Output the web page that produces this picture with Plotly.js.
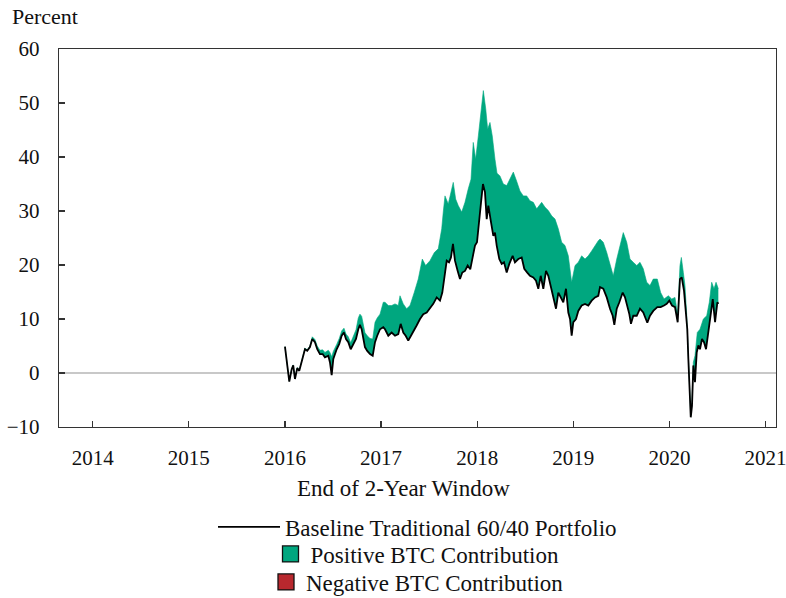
<!DOCTYPE html>
<html>
<head>
<meta charset="utf-8">
<script src="https://cdn.plot.ly/plotly-3.0.1.min.js"></script>
<style>html,body{margin:0;padding:0;background:#fff;}</style>
</head>
<body>
<div id="chart" style="width:786px;height:598px;"></div>
<script>
// End of 2-year window (decimal year) and baseline 60/40 portfolio return (percent)
var baseX = [2016.000,2016.024,2016.045,2016.070,2016.086,2016.104,2016.128,2016.149,2016.174,2016.208,2016.232,2016.260,2016.284,2016.312,2016.336,2016.364,2016.392,2016.416,2016.451,2016.468,2016.486,2016.503,2016.538,2016.565,2016.590,2016.614,2016.635,2016.659,2016.684,2016.711,2016.739,2016.763,2016.780,2016.798,2016.815,2016.832,2016.856,2016.885,2016.913,2016.937,2016.960,2016.989,2017.023,
2017.041,2017.075,2017.110,2017.145,2017.179,2017.204,2017.231,2017.256,2017.283,2017.311,2017.335,2017.370,2017.405,2017.439,2017.475,2017.509,2017.543,2017.579,2017.613,2017.637,2017.658,2017.683,2017.707,2017.727,2017.748,2017.769,2017.797,2017.821,2017.845,2017.873,2017.901,2017.928,2017.949,2017.977,2017.998,2018.019,2018.040,2018.060,2018.081,2018.099,2018.116,2018.144,2018.168,
2018.185,2018.203,2018.230,2018.255,2018.279,2018.307,2018.334,2018.369,2018.393,2018.428,2018.463,2018.490,2018.521,2018.549,2018.584,2018.612,2018.636,2018.661,2018.688,2018.716,2018.740,2018.765,2018.792,2018.820,2018.844,2018.869,2018.896,2018.924,2018.948,2018.966,2018.983,2019.000,2019.028,2019.052,2019.087,2019.122,2019.156,2019.191,2019.226,2019.260,
2019.278,2019.312,2019.348,2019.382,2019.410,2019.427,2019.452,2019.479,2019.514,2019.538,2019.562,2019.583,2019.600,2019.624,2019.660,2019.694,2019.728,2019.770,2019.798,2019.832,2019.874,2019.909,2019.944,2019.972,2019.999,2020.027,2020.058,2020.086,2020.110,2020.128,2020.152,2020.173,2020.186,2020.197,2020.207,2020.222,2020.235,2020.249,2020.266,2020.284,2020.301,2020.318,2020.339,2020.360,2020.381,2020.405,2020.430,2020.451,2020.475,2020.499,2020.509];
var baseY = [4.9,1.7,-1.6,0.7,1.4,-1.1,0.9,0.4,2.3,4.4,4.1,4.8,6.3,5.7,4.4,3.5,3.5,2.9,3.2,2.0,-0.4,2.6,4.4,5.4,6.9,7.5,6.3,5.7,4.4,5.4,6.3,8.1,8.9,8.1,6.3,4.8,4.1,3.5,3.2,5.7,6.9,8.1,8.5,
8.1,6.9,7.5,6.9,7.2,9.1,7.5,6.9,6.0,6.9,7.8,8.8,10.0,10.9,11.2,11.9,12.8,14.0,13.4,14.9,18.0,20.8,20.5,21.4,23.9,20.8,18.9,17.4,18.6,18.9,19.9,19.2,21.1,23.6,24.2,28.5,31.6,35.0,33.5,28.5,31.0,27.9,25.4,
26.0,23.6,21.1,20.2,20.5,18.6,20.2,21.7,20.5,21.1,21.4,19.3,18.6,18.0,17.7,17.1,15.6,18.0,15.6,18.9,18.0,16.2,14.3,11.9,14.9,14.0,13.1,15.6,11.2,10.0,6.9,9.4,10.0,11.5,12.5,12.8,12.5,13.4,14.0,14.3,
15.9,15.6,14.0,11.9,10.6,8.9,11.9,13.1,14.9,14.0,12.5,10.9,9.1,10.6,10.6,11.9,11.2,9.3,10.6,11.5,12.2,12.2,12.5,12.8,13.4,12.5,12.2,9.4,17.4,17.7,15.2,10.6,8.1,2.6,-2.3,-8.2,-6.1,1.4,-1.7,3.8,5.1,4.4,6.3,5.7,4.4,7.5,10.0,13.7,9.4,13.1,12.8];

// Portfolio including BTC (top of the positive BTC contribution band)
var topX = [2016.000,2016.024,2016.045,2016.070,2016.086,2016.104,2016.128,2016.149,2016.174,2016.208,2016.232,2016.260,2016.284,2016.312,2016.336,2016.364,2016.392,2016.416,2016.451,2016.468,2016.486,2016.503,2016.538,2016.565,2016.590,2016.614,2016.635,2016.659,2016.684,2016.711,2016.739,2016.763,2016.780,2016.798,2016.815,2016.832,2016.856,2016.885,2016.913,2016.937,2016.960,2016.989,2017.023,
2017.041,2017.075,2017.110,2017.145,2017.179,2017.197,2017.231,2017.266,2017.301,2017.345,2017.387,2017.429,2017.464,2017.509,2017.554,2017.595,2017.631,2017.647,2017.665,2017.699,2017.724,2017.751,2017.776,2017.803,2017.839,2017.873,2017.907,2017.936,2017.959,2017.984,2018.012,2018.040,2018.064,2018.089,2018.109,2018.133,2018.157,2018.185,
2018.206,2018.237,2018.272,2018.307,2018.341,2018.376,2018.411,2018.445,2018.480,2018.515,2018.549,2018.584,2018.619,2018.671,2018.706,2018.740,2018.775,2018.810,2018.844,2018.879,2018.914,2018.948,2018.983,2019.018,2019.052,2019.087,2019.122,2019.156,2019.191,2019.226,2019.260,
2019.278,2019.312,2019.348,2019.382,2019.416,2019.452,2019.486,2019.520,2019.556,2019.590,2019.624,2019.660,2019.694,2019.728,2019.764,2019.798,2019.832,2019.874,2019.909,2019.944,2019.989,2020.024,2020.058,2020.086,2020.110,2020.124,2020.145,2020.162,2020.180,2020.186,2020.197,2020.207,2020.222,2020.235,2020.249,2020.266,2020.290,2020.318,2020.353,2020.388,2020.415,2020.440,2020.464,2020.485,2020.509];
var topY = [4.9,1.8,-1.5,0.8,1.5,-1.0,1.0,0.5,2.4,4.6,4.3,5.0,6.7,6.2,5.0,4.2,4.3,3.8,4.2,3.8,3.0,4.0,5.3,6.4,7.8,8.3,7.2,6.7,5.6,6.8,8.0,10.2,10.9,10.5,9.0,7.5,6.9,6.4,6.3,9.4,10.2,10.9,13.1,
13.1,12.5,12.5,12.8,12.5,14.3,12.8,11.9,12.5,14.9,17.4,21.1,19.9,20.8,22.3,23.0,26.7,29.8,32.8,31.3,33.5,35.3,32.2,31.0,29.8,31.6,34.1,35.9,42.7,39.6,43.9,48.3,52.3,48.9,45.2,46.4,43.9,39.6,
37.0,36.5,35.0,34.7,36.0,37.2,35.5,33.7,32.8,32.8,31.9,31.6,30.4,31.6,30.7,30.1,29.1,28.5,26.7,24.2,23.6,21.7,16.8,19.9,20.5,21.7,21.1,21.7,22.6,23.6,24.5,
24.8,24.2,22.3,19.9,18.0,21.1,23.6,26.0,24.2,21.1,20.5,19.9,20.5,19.3,16.8,16.2,17.4,17.4,14.9,13.7,14.3,13.7,14.0,10.8,19.9,21.4,18.6,16.2,10.8,8.5,3.0,-2.0,-8.0,-5.5,2.0,3.2,7.5,8.1,10.0,10.6,13.1,16.8,15.6,16.8,15.6];

var yearTicks = [2014,2015,2016,2017,2018,2019,2020,2021];
var yearLabels = ['2014','2015','2016','2017','2018','2019','2020','2021'];
var valueTicks = [-10,0,10,20,30,40,50,60];
var valueLabels = ['\u221210','0','10','20','30','40','50','60'];

var seriesNames = ['Baseline Traditional 60/40 Portfolio','Positive BTC Contribution','Negative BTC Contribution'];

var FONT = 'Liberation Serif, Times New Roman, serif';
var GREEN = '#00a77f';
var RED = '#b8282e';

var traces = [
  {x: baseX, y: baseY, type: 'scatter', mode: 'lines', line: {color: 'rgba(0,0,0,0)', width: 0}, showlegend: false, hoverinfo: 'skip'},
  {x: topX, y: topY, type: 'scatter', mode: 'lines', fill: 'tonexty', fillcolor: GREEN, line: {color: GREEN, width: 0.6}, showlegend: false, hoverinfo: 'skip'},
  {x: baseX, y: baseY, type: 'scatter', mode: 'lines', name: seriesNames[0], line: {color: '#000', width: 1.8}, legend: 'legend'},
  {x: [null], y: [null], type: 'scatter', mode: 'markers', name: seriesNames[1], marker: {symbol: 'square', size: 16, color: GREEN, line: {color: '#111', width: 1.3}}, legend: 'legend2'},
  {x: [null], y: [null], type: 'scatter', mode: 'markers', name: seriesNames[2], marker: {symbol: 'square', size: 16, color: RED, line: {color: '#111', width: 1.3}}, legend: 'legend3'}
];

function leg(y, w) {
  return {x: 0.5, xanchor: 'center', y: y, yanchor: 'middle', bgcolor: 'rgba(0,0,0,0)',
          font: {family: FONT, size: 23, color: '#111'}, itemwidth: w, tracegroupgap: 0};
}

var layout = {
  width: 786, height: 598,
  margin: {l: 59, r: 10, t: 49, b: 171, autoexpand: false},
  paper_bgcolor: '#fff', plot_bgcolor: '#fff',
  font: {family: FONT, size: 21, color: '#111'},
  title: {text: 'Percent', x: 0.0153, xanchor: 'left', xref: 'container', y: 0.973, yanchor: 'middle', yref: 'container',
          font: {family: FONT, size: 22, color: '#111'}},
  xaxis: {range: [2013.649, 2021.109], tickmode: 'array', tickvals: yearTicks, ticktext: yearLabels,
          ticks: 'inside', ticklen: 6, tickcolor: '#333', tickwidth: 1.2,
          showline: true, linecolor: '#333', linewidth: 1.2, mirror: true,
          showgrid: false, zeroline: false, ticklabelstandoff: 12, ticklabeloverflow: 'allow', automargin: false,
          tickfont: {family: FONT, size: 21, color: '#111'}},
  yaxis: {range: [-10, 60], tickmode: 'array', tickvals: valueTicks, ticktext: valueLabels,
          ticks: 'inside', ticklen: 6, tickcolor: '#333', tickwidth: 1.2,
          showline: true, linecolor: '#333', linewidth: 1.2, mirror: true,
          showgrid: false, zeroline: true, zerolinecolor: '#c8c8c8', zerolinewidth: 1.2,
          ticklabelstandoff: 14, automargin: false,
          tickfont: {family: FONT, size: 21, color: '#111'}},
  annotations: [
    {text: 'End of 2-Year Window', xref: 'paper', yref: 'paper', x: 0.4805, y: -0.1614,
     xanchor: 'center', yanchor: 'middle', showarrow: false, font: {family: FONT, size: 23, color: '#111'}}
  ],
  legend: leg(-0.2646, 62),
  legend2: leg(-0.336, 30),
  legend3: leg(-0.410, 30)
};

Plotly.newPlot('chart', traces, layout, {displayModeBar: false, staticPlot: true});
</script>
</body>
</html>
